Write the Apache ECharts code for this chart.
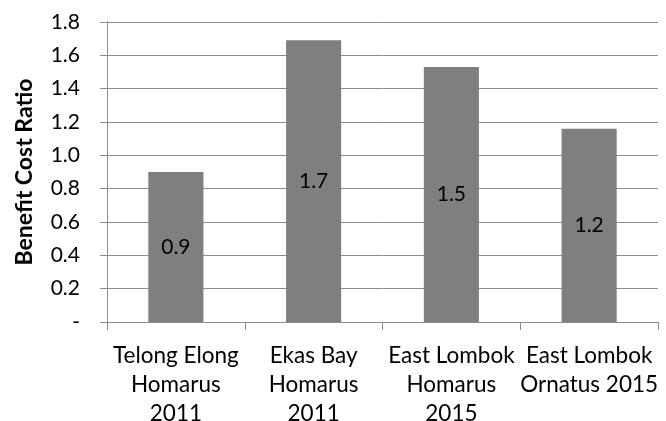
<!DOCTYPE html>
<html>
<head>
<meta charset="utf-8">
<script src="https://cdn.jsdelivr.net/npm/echarts@6/dist/echarts.min.js"></script>
<style>html,body{margin:0;padding:0;background:#fff}#chart{width:666px;height:421px}</style>
</head>
<body>
<div id="chart"></div>
<script>
// Benefit–cost ratio per site, species and year
const categories = [
  'Telong Elong\nHomarus\n2011',
  'Ekas Bay\nHomarus\n2011',
  'East Lombok\nHomarus\n2015',
  'East Lombok\nOrnatus 2015'
];
const ratios = [0.9, 1.69, 1.53, 1.16];
const yTicks = ['-', '0.2', '0.4', '0.6', '0.8', '1.0', '1.2', '1.4', '1.6', '1.8'];

const FONT = 'Lato, "Open Sans", sans-serif';
const AXIS_GREY = '#8c8c8c';

const chart = echarts.init(document.getElementById('chart'), null, { renderer: 'canvas' });

const valueAxisBase = {
  type: 'value',
  min: 0,
  max: 1.8,
  interval: 0.2,
  axisLine: { show: true, lineStyle: { color: AXIS_GREY, width: 1 } }
};

chart.setOption({
  animation: false,
  grid: {
    left: 107, right: 8, top: 22, bottom: 99,
    containLabel: false,
    outerBoundsMode: 'none'
  },
  xAxis: {
    type: 'category',
    data: categories,
    axisLine: { lineStyle: { color: AXIS_GREY, width: 1 } },
    axisTick: { show: true, alignWithLabel: false, length: 8, lineStyle: { color: AXIS_GREY } },
    axisLabel: {
      color: '#000', fontFamily: FONT, fontSize: 22.5, lineHeight: 29,
      margin: 19, interval: 0, hideOverlap: false
    }
  },
  yAxis: [
    Object.assign({}, valueAxisBase, {
      name: 'Benefit Cost Ratio',
      nameLocation: 'middle',
      nameGap: 71,
      nameTextStyle: { color: '#000', fontFamily: FONT, fontSize: 23, fontWeight: 'bold' },
      axisTick: { show: true, length: 7, lineStyle: { color: AXIS_GREY } },
      splitLine: { show: true, lineStyle: { color: AXIS_GREY, width: 1 } },
      axisLabel: {
        color: '#000', fontFamily: FONT, fontSize: 21, margin: 27,
        formatter: (v) => yTicks[Math.round(v / 0.2)]
      }
    }),
    // inner half of the cross-style tick marks
    Object.assign({}, valueAxisBase, {
      position: 'left',
      axisTick: { show: true, inside: true, length: 7, lineStyle: { color: AXIS_GREY } },
      axisLabel: { show: false },
      splitLine: { show: false }
    })
  ],
  series: [{
    type: 'bar',
    data: ratios,
    barWidth: '40%',
    itemStyle: { color: '#7f7f7f' },
    label: {
      show: true,
      position: 'inside',
      color: '#000',
      fontFamily: FONT,
      fontSize: 21,
      formatter: (p) => p.value.toFixed(1)
    }
  }]
});
</script>
</body>
</html>
